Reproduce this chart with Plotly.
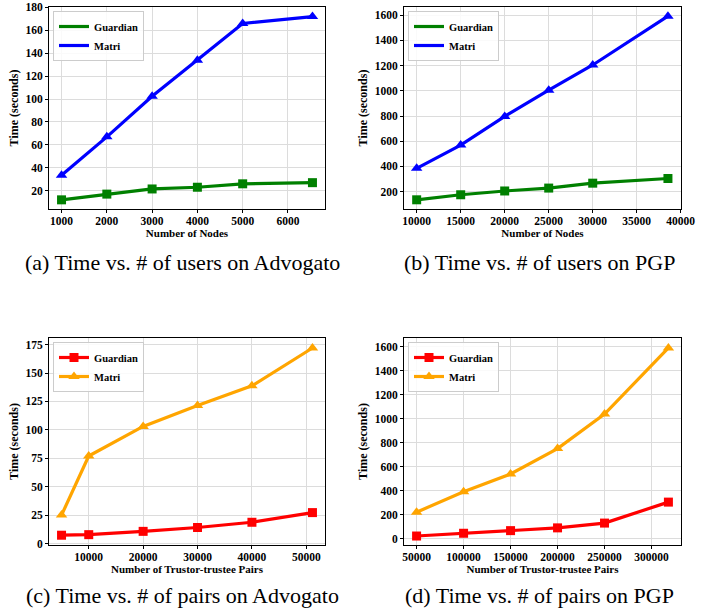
import plotly.graph_objects as go

# (a) Advogato, time vs number of nodes
nodes_adv = [1000, 2000, 3000, 4000, 5000, 6541]
guardian_a = [12, 17, 21.5, 23, 26, 27]
matri_a = [33.5, 67, 102.5, 134, 166, 172]

# (b) PGP, time vs number of nodes
nodes_pgp = [10000, 15000, 20000, 25000, 30000, 38546]
guardian_b = [135, 175, 205, 228, 267, 304]
matri_b = [385, 569, 797, 1005, 1205, 1592]

# (c) Advogato, time vs number of pairs
pairs_adv = [5000, 10000, 20000, 30000, 40000, 51127]
guardian_c = [7.3, 7.8, 10.7, 14.1, 18.7, 27.2]
matri_c = [25, 77, 103, 121.5, 138.7, 172]

# (d) PGP, time vs number of pairs
pairs_pgp = [50000, 100000, 150000, 200000, 250000, 317979]
guardian_d = [22, 45, 67, 90, 130, 305]
matri_d = [221, 392, 540, 752, 1040, 1592]

captions = ["(a) Time vs. # of users on Advogato", "(b) Time vs. # of users on PGP",
            "(c) Time vs. # of pairs on Advogato", "(d) Time vs. # of pairs on PGP"]

W, H = 709, 608
SERIF = "Liberation Serif"
GREEN, BLUE, RED, ORANGE = "#008000", "#0000ff", "#ff0000", "#ffa500"

fig = go.Figure()

def px_dom_x(a, b):
    return [a / W, b / W]

def px_dom_y(top, bottom):
    return [1 - bottom / H, 1 - top / H]

panels = [
    dict(x=nodes_adv, g=guardian_a, m=matri_a, gc=GREEN, mc=BLUE, xd=(49, 325), yd=(7, 209),
         xr=[723, 6818], yr=[4, 180.4], xt=[1000, 2000, 3000, 4000, 5000, 6000], yt=list(range(20, 181, 20)),
         xtitle="Number of Nodes", legmarker=False),
    dict(x=nodes_pgp, g=guardian_b, m=matri_b, gc=GREEN, mc=BLUE, xd=(404, 681), yd=(7, 209),
         xr=[8560, 40030], yr=[62, 1665], xt=list(range(10000, 40001, 5000)), yt=list(range(200, 1601, 200)),
         xtitle="Number of Nodes", legmarker=False),
    dict(x=pairs_adv, g=guardian_c, m=matri_c, gc=RED, mc=ORANGE, xd=(49, 325), yd=(338, 545),
         xr=[2694, 53433], yr=[-1.3, 180.8], xt=list(range(10000, 50001, 10000)), yt=list(range(0, 176, 25)),
         xtitle="Number of Trustor-trustee Pairs", legmarker=True),
    dict(x=pairs_pgp, g=guardian_d, m=matri_d, gc=RED, mc=ORANGE, xd=(404, 681), yd=(338, 545),
         xr=[36601, 331378], yr=[-53, 1675], xt=list(range(50000, 300001, 50000)), yt=list(range(0, 1601, 200)),
         xtitle="Number of Trustor-trustee Pairs", legmarker=True),
]

layout = dict(width=W, height=H, margin=dict(l=0, r=0, t=0, b=0, autoexpand=False),
              paper_bgcolor="white", plot_bgcolor="white", showlegend=True)
annotations = []

for i, p in enumerate(panels):
    k = "" if i == 0 else str(i + 1)
    xa, ya = "x" + k, "y" + k
    leg = "legend" if i == 0 else "legend" + str(i + 1)
    show_main = p["legmarker"]
    fig.add_trace(go.Scatter(x=p["x"], y=p["g"], mode="lines+markers", name="Guardian",
                             line=dict(color=p["gc"], width=3.2),
                             marker=dict(symbol="square", size=9, color=p["gc"]),
                             xaxis=xa, yaxis=ya, legend=leg, showlegend=show_main, cliponaxis=False))
    fig.add_trace(go.Scatter(x=p["x"], y=p["m"], mode="lines+markers", name="Matri",
                             line=dict(color=p["mc"], width=3.2),
                             marker=dict(symbol="triangle-up", size=10, color=p["mc"]),
                             xaxis=xa, yaxis=ya, legend=leg, showlegend=show_main, cliponaxis=False))
    if not show_main:
        for nm, c in (("Guardian", p["gc"]), ("Matri", p["mc"])):
            fig.add_trace(go.Scatter(x=[None], y=[None], mode="lines", name=nm,
                                     line=dict(color=c, width=3.2),
                                     xaxis=xa, yaxis=ya, legend=leg, showlegend=True))
    axcommon = dict(showline=True, linecolor="black", linewidth=1, mirror=True,
                    ticks="outside", ticklen=3, tickcolor="black", automargin=False,
                    showgrid=True, gridcolor="#dcdcdc", gridwidth=1, zeroline=False,
                    ticklabeloverflow="allow",
                    tickfont=dict(family=SERIF, size=11.5, color="black", weight="bold"))
    layout["xaxis" + k] = dict(axcommon, domain=px_dom_x(*p["xd"]), range=p["xr"], tickvals=p["xt"],
                               ticktext=[str(v) for v in p["xt"]], anchor=ya, ticklabelstandoff=-2,
                               title=dict(text=p["xtitle"], standoff=0,
                                          font=dict(family=SERIF, size=11, color="black", weight="bold")))
    layout["yaxis" + k] = dict(axcommon, domain=px_dom_y(*p["yd"]), range=p["yr"], tickvals=p["yt"],
                               ticktext=[str(v) for v in p["yt"]], anchor=xa,
                               title=dict(text="Time (seconds)", standoff=4,
                                          font=dict(family=SERIF, size=12, color="black", weight="bold")))
    lx = p["xd"][0] + 4
    ly = p["yd"][0] + 4
    layout[leg] = dict(x=lx / W, y=1 - ly / H, xanchor="left", yanchor="top",
                       bgcolor="rgba(255,255,255,0.85)", bordercolor="#cccccc", borderwidth=1,
                       font=dict(family=SERIF, size=10.5, color="black", weight="bold"),
                       itemwidth=30, tracegroupgap=0)
    cx = (21 + 343) / 2 if i % 2 == 0 else (401 + 678) / 2
    cy = 262 if i < 2 else 595
    annotations.append(dict(text=captions[i], x=cx / W, y=1 - cy / H, xref="paper", yref="paper",
                            xanchor="center", yanchor="middle", showarrow=False,
                            font=dict(family=SERIF, size=22, color="black")))

layout["annotations"] = annotations
fig.update_layout(**layout)
fig.write_html("out.html", config={"displayModeBar": False},
               post_script="document.body.style.margin='0';document.body.style.padding='0';")
